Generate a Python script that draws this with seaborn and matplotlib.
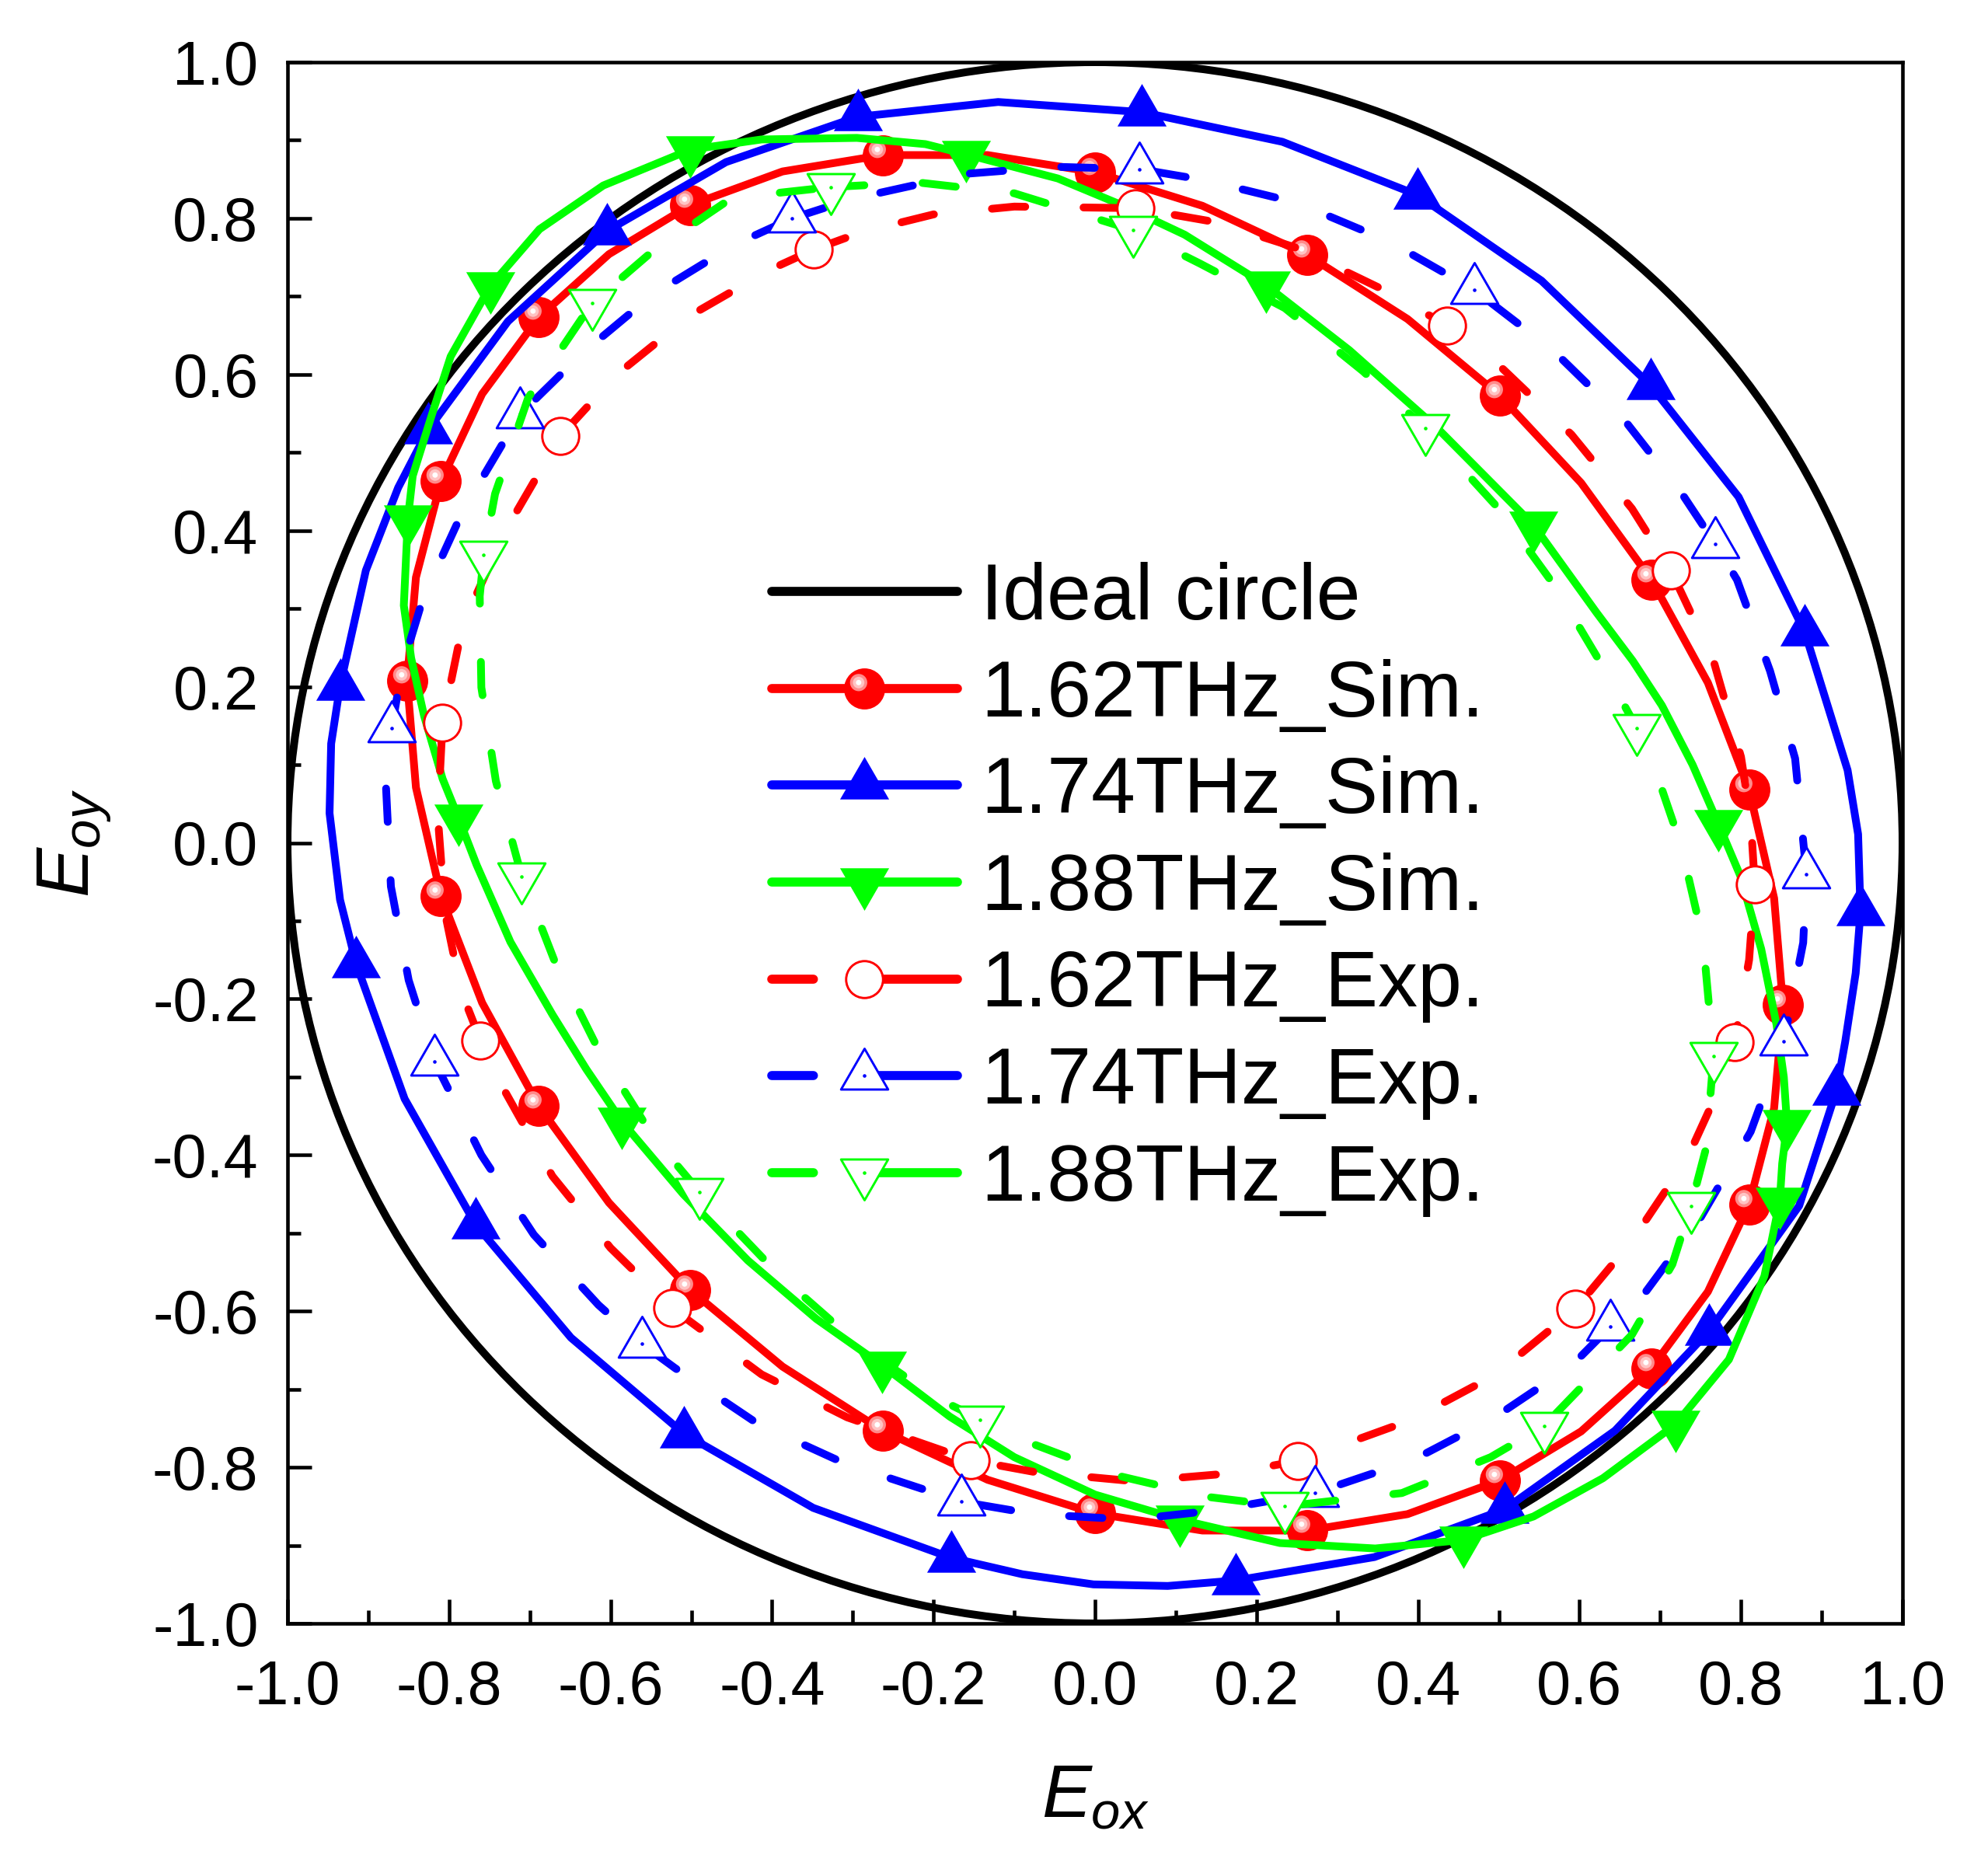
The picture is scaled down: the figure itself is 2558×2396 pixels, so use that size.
import matplotlib
matplotlib.use("Agg")
import matplotlib.pyplot as plt
import seaborn as sns
from matplotlib.path import Path
from matplotlib.patches import Circle
from matplotlib.lines import Line2D
from matplotlib.legend_handler import HandlerTuple
from matplotlib.ticker import FixedLocator, MultipleLocator, FixedFormatter

# ---- data (Eox, Eoy) ----
ideal_radius = 1.0

# 1.62 THz simulation, markers on the even points
red_sim_x = [0.852, 0.841, 0.810, 0.759, 0.689, 0.602, 0.501, 0.387, 0.263, 0.133,
             0.0, -0.133, -0.263, -0.387, -0.501, -0.602, -0.689, -0.759, -0.810, -0.841,
             -0.852, -0.841, -0.810, -0.759, -0.689, -0.602, -0.501, -0.387, -0.263, -0.133,
             0.0, 0.133, 0.263, 0.387, 0.501, 0.602, 0.689, 0.759, 0.810, 0.841]
red_sim_y = [-0.208, -0.071, 0.068, 0.205, 0.337, 0.461, 0.573, 0.671, 0.753, 0.816,
             0.859, 0.881, 0.881, 0.860, 0.817, 0.754, 0.673, 0.575, 0.463, 0.340,
             0.208, 0.071, -0.068, -0.205, -0.337, -0.461, -0.573, -0.671, -0.753, -0.816,
             -0.859, -0.881, -0.881, -0.860, -0.817, -0.754, -0.673, -0.575, -0.463, -0.340]
red_sim_marks = list(range(0, 40, 2))

# 1.74 THz simulation
blue_sim_x = [0.948, 0.945, 0.932, 0.879, 0.797, 0.688, 0.553, 0.399, 0.232, 0.058,
              -0.120, -0.294, -0.457, -0.604, -0.727, -0.826, -0.863, -0.903, -0.935, -0.946,
              -0.948, -0.935, -0.915, -0.855, -0.767, -0.649, -0.509, -0.349, -0.178, -0.090,
              -0.002, 0.090, 0.174, 0.346, 0.507, 0.644, 0.760, 0.872, 0.918, 0.929,
              0.942]
blue_sim_y = [-0.088, 0.011, 0.093, 0.270, 0.443, 0.586, 0.720, 0.830, 0.898, 0.936,
              0.949, 0.930, 0.872, 0.784, 0.668, 0.529, 0.455, 0.349, 0.201, 0.127,
              0.038, -0.073, -0.155, -0.328, -0.489, -0.634, -0.757, -0.852, -0.916, -0.937,
              -0.950, -0.952, -0.945, -0.915, -0.854, -0.753, -0.626, -0.465, -0.318, -0.255,
              -0.167]
blue_sim_marks = [0, 3, 5, 7, 9, 11, 13, 15, 18, 22, 24, 26, 28, 32, 34, 36, 38]

# 1.88 THz simulation
green_sim_x = [-0.788, -0.808, -0.831, -0.847, -0.856, -0.853, -0.851, -0.845, -0.822, -0.798,
               -0.749, -0.688, -0.609, -0.501, -0.413, -0.295, -0.210, -0.160, -0.046, 0.033,
               0.111, 0.212, 0.315, 0.424, 0.543, 0.621, 0.666, 0.702, 0.740, 0.772,
               0.799, 0.825, 0.844, 0.853, 0.857, 0.851, 0.848, 0.829, 0.785, 0.719,
               0.629, 0.543, 0.456, 0.347, 0.229, 0.105, 0.000, -0.100, -0.180, -0.264,
               -0.345, -0.430, -0.510, -0.586, -0.630, -0.672, -0.724, -0.766]
green_sim_y = [0.031, 0.082, 0.163, 0.237, 0.304, 0.371, 0.415, 0.470, 0.546, 0.623,
               0.713, 0.786, 0.842, 0.888, 0.901, 0.903, 0.895, 0.882, 0.851, 0.817,
               0.779, 0.714, 0.631, 0.531, 0.407, 0.295, 0.233, 0.176, 0.100, 0.024,
               -0.042, -0.136, -0.233, -0.300, -0.360, -0.411, -0.459, -0.555, -0.662, -0.745,
               -0.814, -0.863, -0.893, -0.904, -0.897, -0.867, -0.835, -0.787, -0.735, -0.669,
               -0.610, -0.535, -0.450, -0.357, -0.290, -0.220, -0.127, -0.028]
green_sim_marks = [0, 6, 10, 13, 17, 21, 24, 29, 34, 36, 39, 42, 45, 49, 53]

# 1.62 THz experiment
red_exp_x = [-0.348, -0.29, -0.20, -0.10, 0.050, 0.15, 0.25, 0.35, 0.436, 0.50,
             0.59, 0.665, 0.713, 0.766, 0.80, 0.812, 0.817, 0.81, 0.792, 0.775,
             0.733, 0.665, 0.595, 0.495, 0.39, 0.251, 0.165, 0.05, -0.075, -0.154,
             -0.307, -0.413, -0.524, -0.60, -0.672, -0.731, -0.761, -0.785, -0.805, -0.814,
             -0.808, -0.783, -0.73, -0.662, -0.592, -0.502, -0.403]
red_exp_y = [0.760, 0.782, 0.805, 0.815, 0.813, 0.795, 0.762, 0.712, 0.663, 0.612,
             0.523, 0.428, 0.349, 0.233, 0.11, 0.03, -0.053, -0.15, -0.255, -0.31,
             -0.405, -0.51, -0.597, -0.682, -0.74, -0.792, -0.808, -0.818, -0.806, -0.791,
             -0.736, -0.681, -0.596, -0.519, -0.427, -0.318, -0.253, -0.19, -0.09, 0.035,
             0.154, 0.28, 0.40, 0.521, 0.600, 0.675, 0.734]
red_exp_marks = [0, 4, 8, 12, 16, 18, 22, 25, 29, 32, 36, 40, 43]

# 1.74 THz experiment
blue_exp_x = [-0.375, -0.30, -0.16, -0.05, 0.055, 0.135, 0.25, 0.365, 0.470, 0.568,
              0.656, 0.727, 0.768, 0.795, 0.836, 0.867, 0.881, 0.877, 0.853, 0.812,
              0.75, 0.68, 0.638, 0.59, 0.495, 0.395, 0.272, 0.15, 0.045, -0.075,
              -0.166, -0.31, -0.418, -0.52, -0.561, -0.615, -0.695, -0.76, -0.818, -0.85,
              -0.872, -0.878, -0.871, -0.858, -0.832, -0.782, -0.712, -0.635, -0.548, -0.447]
blue_exp_y = [0.800, 0.825, 0.857, 0.866, 0.863, 0.849, 0.82, 0.77, 0.708, 0.63,
              0.541, 0.447, 0.383, 0.337, 0.22, 0.108, -0.040, -0.128, -0.254, -0.37,
              -0.48, -0.578, -0.620, -0.67, -0.736, -0.79, -0.833, -0.855, -0.867, -0.86,
              -0.844, -0.795, -0.744, -0.673, -0.642, -0.592, -0.502, -0.40, -0.280, -0.176,
              -0.056, 0.07, 0.147, 0.225, 0.314, 0.427, 0.549, 0.627, 0.702, 0.766]
blue_exp_marks = [0, 4, 8, 12, 16, 18, 22, 26, 30, 34, 38, 42, 46]

# 1.88 THz experiment
green_exp_x = [-0.327, -0.22, -0.10, 0.047, 0.13, 0.235, 0.332, 0.409, 0.50, 0.57,
               0.631, 0.671, 0.69, 0.726, 0.753, 0.766, 0.757, 0.738, 0.715, 0.665,
               0.556, 0.49, 0.38, 0.235, 0.14, 0.025, -0.09, -0.142, -0.20, -0.295,
               -0.392, -0.490, -0.547, -0.615, -0.668, -0.710, -0.742, -0.760, -0.762, -0.757,
               -0.743, -0.702, -0.623, -0.55, -0.45]
green_exp_y = [0.840, 0.846, 0.832, 0.785, 0.742, 0.685, 0.604, 0.531, 0.428, 0.328,
               0.222, 0.147, 0.105, -0.004, -0.125, -0.273, -0.39, -0.465, -0.54, -0.63,
               -0.747, -0.787, -0.833, -0.850, -0.838, -0.81, -0.765, -0.739, -0.709, -0.641,
               -0.553, -0.447, -0.377, -0.265, -0.155, -0.043, 0.079, 0.199, 0.316, 0.369,
               0.447, 0.57, 0.691, 0.756, 0.826]
green_exp_marks = [0, 3, 7, 11, 15, 17, 20, 23, 27, 31, 35, 39, 42]

tick_values = [-1.0, -0.8, -0.6, -0.4, -0.2, 0.0, 0.2, 0.4, 0.6, 0.8, 1.0]
tick_labels = ["-1.0", "-0.8", "-0.6", "-0.4", "-0.2", "0.0", "0.2", "0.4", "0.6", "0.8", "1.0"]
legend_labels = ["Ideal circle", "1.62THz_Sim.", "1.74THz_Sim.", "1.88THz_Sim.",
                 "1.62THz_Exp.", "1.74THz_Exp.", "1.88THz_Exp."]

RED, BLUE, GREEN = "#ff0000", "#0000ff", "#00ff00"

# ---- style ----
sns.set_theme(style="ticks")
plt.rcParams["font.family"] = ["Liberation Sans", "DejaVu Sans"]
plt.rcParams["mathtext.fontset"] = "custom"
plt.rcParams["mathtext.it"] = "Liberation Sans:italic"
plt.rcParams["mathtext.rm"] = "Liberation Sans"
plt.rcParams["axes.unicode_minus"] = False
plt.rcParams["text.color"] = "black"
plt.rcParams["axes.labelcolor"] = "black"


def tri(up=True):
    s = 1 if up else -1
    return Path([(0, s), (-0.866, -0.5 * s), (0.866, -0.5 * s), (0, s)],
                [Path.MOVETO, Path.LINETO, Path.LINETO, Path.CLOSEPOLY])


def spot(r):
    # small highlight disc up-left of the marker centre (ball look)
    c = Path.circle((-0.29, 0.31), r)
    verts = [(-1, -1), (1, 1)] + [tuple(v) for v in c.vertices]
    codes = [Path.MOVETO, Path.MOVETO] + list(c.codes)
    return Path(verts, codes)


TRI_UP, TRI_DOWN = tri(True), tri(False)
SPOTS = [(spot(0.42), "#ff8a8a"), (spot(0.28), "#ffc4c4"), (spot(0.13), "white")]

fig = plt.figure(figsize=(2558 / 300, 2396 / 300), dpi=300)
ax = fig.add_axes([370 / 2558, 1 - 2089 / 2396, 2078 / 2558, 2009 / 2396])

LWC = 2.4
ax.add_patch(Circle((0, 0), ideal_radius, fill=False, ec="black", lw=LWC, zorder=2))

SOLID = "-"
DASH = (0, (4.3, 7.5))


def curve(xs, ys, marks, color, ls, marker, ms, mfc, mew, z):
    x = xs + xs[:1]
    y = ys + ys[:1]
    sns.lineplot(x=x, y=y, sort=False, estimator=None, errorbar=None, ax=ax,
                 color=color, lw=LWC, linestyle=ls, dash_capstyle="round",
                 solid_capstyle="round", solid_joinstyle="round", marker=marker,
                 markevery=marks, ms=ms, mfc=mfc, mec=color, mew=mew, zorder=z)
    return x, y


x, y = curve(red_sim_x, red_sim_y, red_sim_marks, RED, SOLID, "o", 12.7, RED, 0, 3)
for p, c in SPOTS:
    ax.plot(x, y, ls="none", marker=p, ms=12.7, color=c, mew=0,
            markevery=red_sim_marks, zorder=3.01)
curve(blue_sim_x, blue_sim_y, blue_sim_marks, BLUE, SOLID, TRI_UP, 17.5, BLUE, 0, 3.1)
curve(green_sim_x, green_sim_y, green_sim_marks, GREEN, SOLID, TRI_DOWN, 17.5, GREEN, 0, 3.2)

curve(red_exp_x, red_exp_y, red_exp_marks, RED, DASH, "o", 11.4, "white", 0.7, 4)
x, y = curve(blue_exp_x, blue_exp_y, blue_exp_marks, BLUE, DASH, TRI_UP, 16.8, "white", 0.7, 4.1)
ax.plot(x, y, ls="none", marker="o", ms=1.1, color=BLUE, mew=0,
        markevery=blue_exp_marks, zorder=4.11)
x, y = curve(green_exp_x, green_exp_y, green_exp_marks, GREEN, DASH, TRI_DOWN, 16.8, "white", 0.7, 4.2)
ax.plot(x, y, ls="none", marker="o", ms=1.1, color=GREEN, mew=0,
        markevery=green_exp_marks, zorder=4.21)

# ---- axes ----
ax.set_xlim(-1, 1)
ax.set_ylim(-1, 1)
for axis in (ax.xaxis, ax.yaxis):
    axis.set_major_locator(FixedLocator(tick_values))
    axis.set_major_formatter(FixedFormatter(tick_labels))
    axis.set_minor_locator(MultipleLocator(0.1))
ax.tick_params(which="both", direction="in", top=False, right=False,
               width=1.1, color="black", labelcolor="black", labelsize=19)
ax.tick_params(which="major", length=7.5)
ax.tick_params(which="minor", length=4)
ax.tick_params(axis="x", pad=11)
ax.tick_params(axis="y", pad=9)
for sp in ax.spines.values():
    sp.set_linewidth(1.1)
    sp.set_color("black")
    sp.set_visible(True)

ax.set_xlabel(r"$E_{ox}$", fontsize=23, labelpad=14)
ax.set_ylabel(r"$E_{oy}$", fontsize=23, labelpad=12)

# ---- legend ----
LW = 2.8
LDASH = (0, (4.6, 5.5, 20, 1))
handles = [
    Line2D([], [], color="black", lw=LW),
    tuple([Line2D([], [], color=RED, lw=LW, marker="o", ms=12.7, mfc=RED, mew=0)] +
          [Line2D([], [], ls="none", marker=p, ms=12.7, color=c, mew=0) for p, c in SPOTS]),
    Line2D([], [], color=BLUE, lw=LW, marker=TRI_UP, ms=17.5, mfc=BLUE, mew=0),
    Line2D([], [], color=GREEN, lw=LW, marker=TRI_DOWN, ms=17.5, mfc=GREEN, mew=0),
    Line2D([], [], color=RED, lw=LW, ls=LDASH, dash_capstyle="round", marker="o",
           ms=11.4, mfc="white", mec=RED, mew=0.7),
    (Line2D([], [], color=BLUE, lw=LW, ls=LDASH, dash_capstyle="round", marker=TRI_UP,
            ms=16.8, mfc="white", mec=BLUE, mew=0.7),
     Line2D([], [], ls="none", marker="o", ms=1.1, color=BLUE, mew=0)),
    (Line2D([], [], color=GREEN, lw=LW, ls=LDASH, dash_capstyle="round", marker=TRI_DOWN,
            ms=16.8, mfc="white", mec=GREEN, mew=0.7),
     Line2D([], [], ls="none", marker="o", ms=1.1, color=GREEN, mew=0)),
]
ax.legend(handles, legend_labels, handler_map={tuple: HandlerTuple(ndivide=1, pad=0)},
          loc="upper left", bbox_to_anchor=(993 / 2558, 1 - 723 / 2396),
          bbox_transform=fig.transFigure, frameon=False, fontsize=24.5,
          handlelength=2.34, handletextpad=0.3, labelspacing=0.29,
          borderpad=0, borderaxespad=0, numpoints=1)

fig.savefig("out.png", dpi=300)
